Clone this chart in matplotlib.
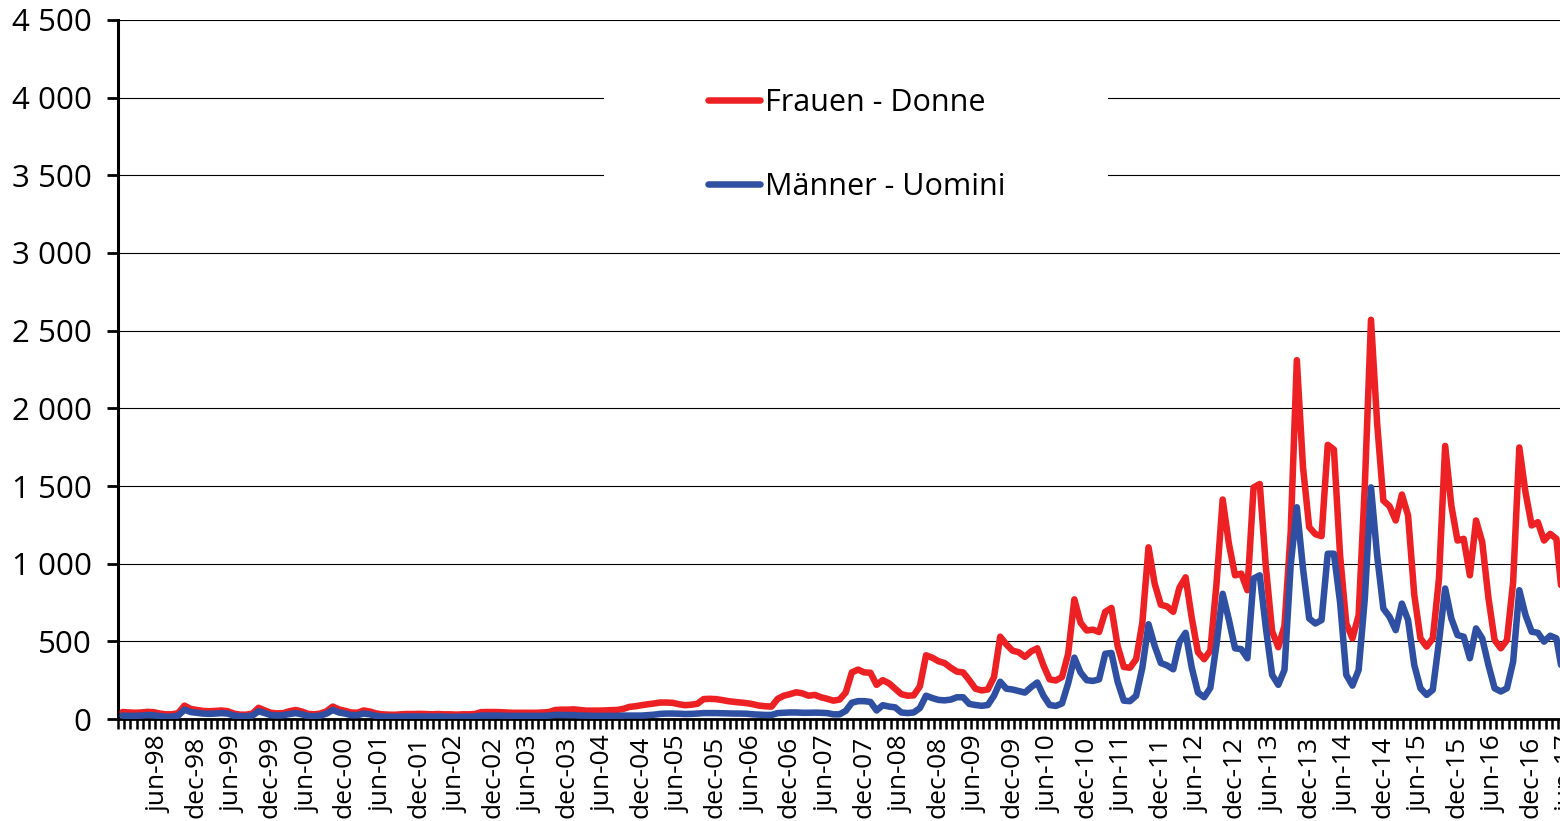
import numpy as np
import matplotlib
matplotlib.use("Agg")
from matplotlib import pyplot as plt
from matplotlib.patches import Rectangle
from matplotlib.ticker import FixedLocator, FuncFormatter

plt.rcParams['font.family'] = ['Open Sans', 'DejaVu Sans']

# monthly values, Jan-98 .. Jun-17
frauen_98 = [45, 42, 40, 42, 46, 44, 35, 30, 30, 38, 86, 65]
frauen_99 = [58, 52, 50, 52, 55, 50, 35, 28, 28, 35, 72, 55]
frauen_00 = [40, 36, 38, 50, 58, 48, 33, 30, 35, 50, 80, 62]
frauen_01 = [52, 42, 40, 55, 48, 36, 30, 28, 27, 30, 32, 32]
frauen_02 = [33, 32, 30, 32, 30, 30, 28, 30, 30, 32, 44, 45]
frauen_03 = [45, 44, 42, 40, 40, 40, 40, 40, 42, 45, 58, 60]
frauen_04 = [60, 62, 58, 54, 54, 54, 55, 57, 58, 65, 78, 82]
frauen_05 = [89, 95, 100, 106, 106, 104, 95, 89, 92, 98, 128, 130]
frauen_06 = [128, 122, 115, 110, 106, 102, 95, 86, 82, 80, 130, 150]
frauen_07 = [160, 172, 165, 150, 155, 140, 130, 118, 125, 170, 300, 318]
frauen_08 = [300, 298, 220, 250, 230, 195, 160, 150, 152, 210, 410, 395]
frauen_09 = [372, 360, 330, 305, 300, 250, 195, 184, 190, 270, 530, 480]
frauen_10 = [440, 430, 400, 435, 455, 345, 255, 248, 270, 420, 770, 620]
frauen_11 = [570, 575, 560, 690, 715, 470, 335, 330, 385, 620, 1105, 870]
frauen_12 = [735, 725, 690, 845, 912, 650, 430, 385, 440, 870, 1413, 1130]
frauen_13 = [925, 936, 829, 1491, 1513, 975, 565, 462, 600, 1200, 2310, 1620]
frauen_14 = [1235, 1190, 1177, 1765, 1735, 1053, 615, 519, 669, 1500, 2570, 1900]
frauen_15 = [1406, 1370, 1278, 1445, 1310, 800, 519, 466, 519, 904, 1758, 1374]
frauen_16 = [1149, 1160, 925, 1278, 1139, 780, 508, 455, 508, 882, 1748, 1459]
frauen_17 = [1246, 1267, 1149, 1192, 1160, 760]

maenner_98 = [22, 20, 20, 22, 25, 24, 18, 15, 15, 22, 60, 45]
maenner_99 = [40, 35, 33, 35, 38, 35, 22, 18, 18, 22, 50, 38]
maenner_00 = [25, 22, 25, 32, 38, 30, 20, 18, 22, 35, 58, 42]
maenner_01 = [35, 25, 25, 35, 30, 20, 15, 15, 14, 15, 16, 16]
maenner_02 = [16, 16, 15, 16, 15, 14, 14, 15, 15, 16, 22, 22]
maenner_03 = [22, 22, 20, 20, 20, 20, 20, 20, 20, 22, 26, 26]
maenner_04 = [25, 25, 22, 22, 20, 20, 20, 20, 20, 22, 22, 22]
maenner_05 = [22, 25, 28, 33, 35, 35, 34, 32, 33, 35, 38, 38]
maenner_06 = [38, 37, 36, 35, 35, 34, 30, 28, 26, 26, 38, 40]
maenner_07 = [42, 42, 40, 40, 41, 40, 38, 30, 30, 52, 105, 115]
maenner_08 = [115, 110, 55, 89, 80, 75, 42, 38, 42, 70, 150, 135]
maenner_09 = [123, 120, 125, 140, 140, 97, 90, 85, 90, 150, 240, 195]
maenner_10 = [190, 180, 170, 205, 235, 150, 90, 84, 100, 230, 395, 300]
maenner_11 = [250, 245, 255, 420, 425, 240, 118, 115, 150, 330, 610, 470]
maenner_12 = [360, 345, 320, 495, 555, 330, 170, 140, 200, 480, 806, 640]
maenner_13 = [455, 450, 391, 904, 925, 583, 284, 220, 316, 989, 1363, 968]
maenner_14 = [647, 615, 637, 1064, 1064, 750, 284, 215, 316, 775, 1491, 1050]
maenner_15 = [711, 658, 572, 743, 637, 348, 198, 155, 188, 498, 840, 647]
maenner_16 = [540, 530, 391, 583, 519, 348, 198, 177, 198, 369, 829, 669]
maenner_17 = [562, 555, 498, 536, 519, 290]

frauen = np.concatenate([frauen_98, frauen_99, frauen_00, frauen_01, frauen_02,
                         frauen_03, frauen_04, frauen_05, frauen_06, frauen_07,
                         frauen_08, frauen_09, frauen_10, frauen_11, frauen_12,
                         frauen_13, frauen_14, frauen_15, frauen_16, frauen_17])
maenner = np.concatenate([maenner_98, maenner_99, maenner_00, maenner_01, maenner_02,
                          maenner_03, maenner_04, maenner_05, maenner_06, maenner_07,
                          maenner_08, maenner_09, maenner_10, maenner_11, maenner_12,
                          maenner_13, maenner_14, maenner_15, maenner_16, maenner_17])

month_names = ['jan', 'feb', 'mar', 'apr', 'mai', 'jun',
               'jul', 'aug', 'sep', 'oct', 'nov', 'dec']
years = list(range(1998, 2018))
months = [m + '-' + str(y)[2:] for y in years for m in month_names][:len(frauen)]

W, H = 1560, 821
fig = plt.figure(figsize=(W / 100, H / 100), dpi=100)

# axes runs past the right edge of the picture, as in the original
n_cat = 240
px_per_cat = 6.18
x0 = -0.75
ax = fig.add_axes([118 / W, 1 - 719 / H, n_cat * px_per_cat / W, (719 - 20) / H])

x = np.arange(len(frauen))
ax.plot(x, frauen, color='#ED2024', lw=4.7, solid_joinstyle='round',
        solid_capstyle='round', label='Frauen - Donne', zorder=3)
ax.plot(x, maenner, color='#2F4FA2', lw=4.7, solid_joinstyle='round',
        solid_capstyle='round', label='Männer - Uomini', zorder=3)

ax.set_xlim(x0, n_cat + x0)
ax.set_ylim(0, 4500)

ax.set_yticks(np.arange(0, 4501, 500))
ax.yaxis.set_major_formatter(FuncFormatter(lambda v, p: f"{int(v):,}".replace(',', ' ')))
ax.tick_params(axis='y', length=8, width=2, pad=11, labelsize=22.5, color='black')
ax.yaxis.grid(True, color='black', lw=0.8)
ax.set_axisbelow(True)

lab_idx = [i for i in range(len(months)) if i % 6 == 5]
ax.xaxis.set_major_locator(FixedLocator([i + 0.9 for i in lab_idx]))
ax.set_xticklabels([months[i] for i in lab_idx], rotation=90, va='top', ha='center')
ax.xaxis.set_minor_locator(FixedLocator(np.arange(n_cat + 1) + x0))
ax.tick_params(axis='x', which='major', length=0, pad=12, labelsize=19)
ax.tick_params(axis='x', which='minor', length=7, width=1.8, color='black')

for s in ['top', 'right']:
    ax.spines[s].set_visible(False)
ax.spines['left'].set_linewidth(2.2)
ax.spines['bottom'].set_linewidth(2)

# white box behind the legend that hides the gridlines
ax.add_patch(Rectangle((604 / W, 1 - 235 / H), (1108 - 604) / W, (235 - 40) / H,
                       transform=fig.transFigure, facecolor='white',
                       edgecolor='none', zorder=1))

leg = ax.legend(loc='upper left', bbox_to_anchor=(708 / W, 1 - 88 / H),
                bbox_transform=fig.transFigure, frameon=False, fontsize=22,
                handlelength=1.7, handletextpad=0.15, borderpad=0,
                borderaxespad=0, labelspacing=1.76)
leg.set_zorder(5)

fig.savefig('out.png', dpi=100)
